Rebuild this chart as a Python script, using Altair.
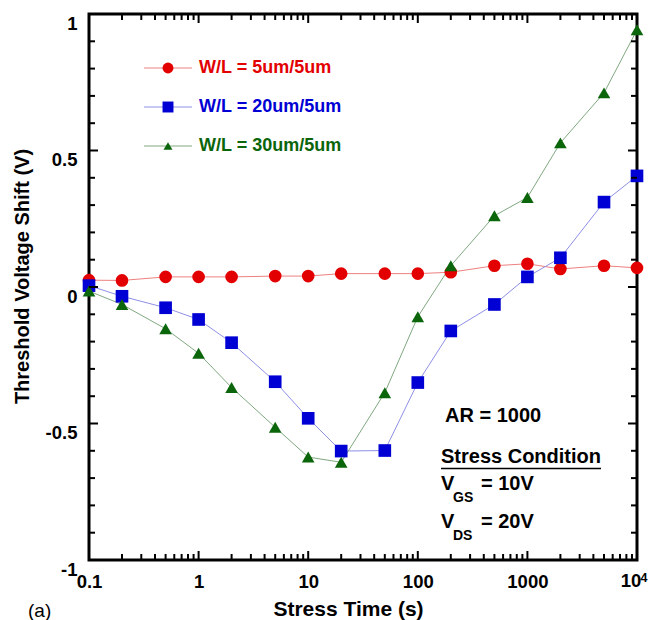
import altair as alt
import pandas as pd

# Stress time (s) and threshold-voltage shift (V) per device geometry
times = [0.1, 0.2, 0.5, 1, 2, 5, 10, 20, 50, 100, 200, 500, 1000, 2000, 5000, 10000]
shift_5um = [0.025, 0.024, 0.037, 0.037, 0.037, 0.040, 0.040, 0.049, 0.049, 0.049,
             0.054, 0.078, 0.085, 0.066, 0.078, 0.070]
shift_20um = [0.005, -0.034, -0.076, -0.119, -0.204, -0.347, -0.481, -0.601, -0.599,
              -0.350, -0.161, -0.064, 0.037, 0.107, 0.311, 0.407]
shift_30um = [-0.015, -0.064, -0.153, -0.243, -0.368, -0.514, -0.623, -0.642, -0.387,
              -0.109, 0.078, 0.261, 0.328, 0.528, 0.711, 0.942]

series_names = ["W/L = 5um/5um", "W/L = 20um/5um", "W/L = 30um/5um"]
marker_colors = ["#e30000", "#0000d4", "#0b650b"]
line_colors = ["#ee8080", "#8f8fe6", "#80a880"]
shapes = ["circle", "square", "triangle-up"]
marker_sizes = [160, 160, 120]
legend_sizes = [120, 120, 80]

# Tick positions for the framed axes
x_major = [0.1, 1, 10, 100, 1000, 10000]
x_minor = [d * m for d in [0.1, 1, 10, 100, 1000] for m in range(2, 10)]
y_major = [-1, -0.5, 0, 0.5, 1]
y_minor = [-0.9, -0.8, -0.7, -0.6, -0.4, -0.3, -0.2, -0.1,
           0.1, 0.2, 0.3, 0.4, 0.6, 0.7, 0.8, 0.9]

FONT = "Liberation Sans"
W, H = 548, 546
MINOR, MAJOR = 6, 9

frames = []
for name, vals in zip(series_names, [shift_5um, shift_20um, shift_30um]):
    frames.append(pd.DataFrame({"t": times, "v": vals, "series": name}))
data = pd.concat(frames, ignore_index=True)

x_enc = alt.X(
    "t:Q",
    scale=alt.Scale(type="log", domain=[0.1, 10000]),
    axis=alt.Axis(
        values=x_major, grid=False, ticks=False, domain=False,
        labelExpr="datum.value == 10000 ? '' : toString(datum.value)",
        labelFont=FONT, labelFontSize=18.5, labelFontWeight="bold", labelColor="black",
        labelPadding=12, labelFlush=False, labelOverlap=False,
        title="Stress Time (s)", titleFont=FONT, titleFontSize=21, titleFontWeight="bold",
        titleColor="black", titleX=259, titleY=49, titleAlign="center",
        titleBaseline="middle",
    ),
)
y_enc = alt.Y(
    "v:Q",
    scale=alt.Scale(domain=[-1, 1], nice=False, zero=False),
    axis=alt.Axis(
        values=y_major, grid=False, ticks=False, domain=False,
        labelExpr="toString(datum.value)",
        labelFont=FONT, labelFontSize=18.5, labelFontWeight="bold", labelColor="black",
        labelPadding=12, labelFlush=False, labelOverlap=False, labelOffset=9,
        title="Threshold Voltage Shift (V)", titleFont=FONT, titleFontSize=20,
        titleFontWeight="bold", titleColor="black", titleAngle=-90,
        titleX=-67, titleY=262, titleAlign="center", titleBaseline="middle",
    ),
)

lines = alt.Chart(data).mark_line(strokeWidth=1).encode(
    x=x_enc, y=y_enc,
    stroke=alt.Stroke("series:N", scale=alt.Scale(domain=series_names, range=line_colors), legend=None),
    detail="series:N",
)
points = alt.Chart(data).mark_point(filled=True, opacity=1).encode(
    x=x_enc, y=y_enc,
    fill=alt.Fill("series:N", scale=alt.Scale(domain=series_names, range=marker_colors), legend=None),
    shape=alt.Shape("series:N", scale=alt.Scale(domain=series_names, range=shapes), legend=None),
    size=alt.Size("series:N", scale=alt.Scale(domain=series_names, range=marker_sizes), legend=None),
)


# Inward-pointing ticks on all four sides of the frame
def x_ticks(vals, length):
    df = pd.DataFrame({"t": vals})
    bottom = alt.Chart(df).mark_rule(color="black", strokeWidth=2).encode(
        x=x_enc, y=alt.value(H), y2=alt.value(H - length))
    top = alt.Chart(df).mark_rule(color="black", strokeWidth=2).encode(
        x=x_enc, y=alt.value(0), y2=alt.value(length))
    return [bottom, top]


def y_ticks(vals, length):
    df = pd.DataFrame({"v": vals})
    left = alt.Chart(df).mark_rule(color="black", strokeWidth=2).encode(
        y=y_enc, x=alt.value(0), x2=alt.value(length))
    right = alt.Chart(df).mark_rule(color="black", strokeWidth=2).encode(
        y=y_enc, x=alt.value(W - length), x2=alt.value(W))
    return [left, right]


ticks = x_ticks(x_minor, MINOR) + x_ticks(x_major, MAJOR) + y_ticks(y_minor, MINOR) + y_ticks(y_major, MAJOR)

one = pd.DataFrame({"k": [0]})

# Legend drawn inside the plot
legend_layers = []
for i, name in enumerate(series_names):
    ry = 54 + i * 39
    legend_layers.append(alt.Chart(one).mark_rule(color=line_colors[i], strokeWidth=1).encode(
        x=alt.value(55), x2=alt.value(103), y=alt.value(ry)))
    legend_layers.append(alt.Chart(one).mark_point(
        filled=True, opacity=1, shape=shapes[i], size=legend_sizes[i], color=marker_colors[i]
    ).encode(x=alt.value(79), y=alt.value(ry)))
    legend_layers.append(alt.Chart(one).mark_text(
        text=name, align="left", baseline="middle", font=FONT, fontSize=18,
        fontWeight="bold", color=marker_colors[i]
    ).encode(x=alt.value(110), y=alt.value(ry)))


def label(txt, x, y, size=20, weight="bold", baseline="alphabetic", align="left"):
    return alt.Chart(one).mark_text(
        text=txt, align=align, baseline=baseline, font=FONT, fontSize=size,
        fontWeight=weight, color="black"
    ).encode(x=alt.value(x), y=alt.value(y))


notes = [
    label("AR = 1000", 356, 402, baseline="middle"),
    label("Stress Condition", 352, 449),
    alt.Chart(one).mark_rule(color="black", strokeWidth=1.5).encode(
        x=alt.value(352), x2=alt.value(512), y=alt.value(454.5)),
    label("V", 352, 476),
    label("GS", 364, 488, size=14),
    label("= 10V", 392, 476),
    label("V", 352, 514),
    label("DS", 364, 526, size=14),
    label("= 20V", 392, 514),
    label("(a)", -61, 597, size=19, weight="normal", baseline="middle"),
    # last x tick label, 10 with a raised exponent
    label("10", 542, H + 12, size=18.5, baseline="top", align="center"),
    label("4", 551.5, H + 22, size=12.5),
]

chart = alt.layer(lines, points, *ticks, *legend_layers, *notes).properties(
    width=W, height=H,
    autosize=alt.AutoSizeParams(type="none"),
    padding={"left": 89, "top": 14, "right": 13, "bottom": 60},
    background="white",
).configure_view(stroke="black", strokeWidth=3)

chart.save("out.html", embed_options={"renderer": "svg", "actions": False})
